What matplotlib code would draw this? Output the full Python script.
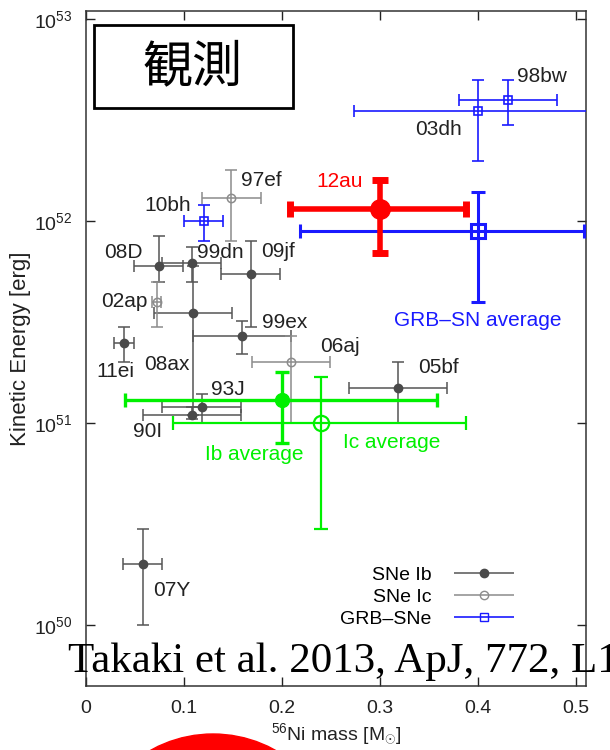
import numpy as np
import matplotlib
matplotlib.use('Agg')
import matplotlib.pyplot as plt
from matplotlib.patches import Rectangle, Ellipse
from matplotlib.container import ErrorbarContainer
from matplotlib.legend_handler import HandlerErrorbar
from matplotlib.ticker import NullLocator

plt.rcParams['font.family'] = ['Liberation Sans', 'Noto Sans CJK JP', 'DejaVu Sans']
plt.rcParams['mathtext.fontset'] = 'custom'
plt.rcParams['mathtext.rm'] = 'Liberation Sans'
plt.rcParams['mathtext.it'] = 'Liberation Sans:italic'
plt.rcParams['mathtext.bf'] = 'Liberation Sans:bold'

# SNe Ib (filled circles)
ib_names = ['08D', '99dn', '09jf', '08ax', '99ex', '11ei', '93J', '90I', '05bf', '07Y']
ib_ni = [0.074, 0.108, 0.168, 0.109, 0.159, 0.039, 0.118, 0.108, 0.318, 0.058]
ib_ni_err = [0.025, 0.03, 0.03, 0.04, 0.05, 0.01, 0.04, 0.05, 0.05, 0.02]
ib_ek = [6.0e51, 6.2e51, 5.5e51, 3.5e51, 2.7e51, 2.5e51, 1.2e51, 1.1e51, 1.5e51, 2.0e50]
ib_ek_lo = [5.0e51, 5.0e51, 3.0e51, 1.1e51, 2.2e51, 2.0e51, 1.0e51, 1.05e51, 1.0e51, 1.0e50]
ib_ek_hi = [8.5e51, 7.5e51, 8.0e51, 6.0e51, 3.2e51, 3.0e51, 1.4e51, 1.2e51, 2.0e51, 3.0e50]

# SNe Ic (open circles)
ic_names = ['97ef', '02ap', '06aj']
ic_ni = [0.148, 0.072, 0.209]
ic_ni_err = [0.03, 0.005, 0.04]
ic_ek = [1.3e52, 4.0e51, 2.0e51]
ic_ek_lo = [8.0e51, 3.0e51, 1.0e51]
ic_ek_hi = [1.8e52, 5.0e51, 2.7e51]

# GRB-SNe (open squares)
grb_names = ['10bh', '03dh', '98bw']
grb_ni = [0.12, 0.40, 0.43]
grb_ni_err = [0.02, 0.127, 0.05]
grb_ek = [1.0e52, 3.5e52, 4.0e52]
grb_ek_lo = [8.0e51, 2.0e52, 3.0e52]
grb_ek_hi = [1.2e52, 5.0e52, 5.0e52]

# averages and SN 2012au
avg_names = ['Ib average', 'Ic average', 'GRB\u2013SN average', '12au']
avg_ni = [0.20, 0.24, 0.40, 0.30]
avg_ni_lo = [0.04, 0.089, 0.218, 0.208]
avg_ni_hi = [0.358, 0.388, 0.508, 0.388]
avg_ek = [1.3e51, 1.0e51, 9.0e51, 1.15e52]
avg_ek_lo = [8.0e50, 3.0e50, 4.0e51, 7.0e51]
avg_ek_hi = [1.8e51, 1.7e51, 1.4e52, 1.6e52]

x_ticks = [0, 0.1, 0.2, 0.3, 0.4, 0.5]
x_ticklabels = ['0', '0.1', '0.2', '0.3', '0.4', '0.5']
y_ticks = [1e50, 1e51, 1e52, 1e53]

IB_C = '#4a4a4a'
IC_C = '#8c8c8c'
GRB_C = '#1a1aff'
GREEN = '#00f000'
RED = '#ff0000'
TXT = '#222222'

# label placement: (dx, dy in pixels, ha)
label_pos = {
    '08D': (-16, 14, 'right'), '99dn': (5, 11, 'left'), '09jf': (10, 22, 'left'),
    '08ax': (-3, -51, 'right'), '99ex': (20, 14, 'left'), '11ei': (-9, -29, 'center'),
    '93J': (9, 18, 'left'), '90I': (-30, -17, 'right'), '05bf': (20, 20, 'left'),
    '07Y': (10, -26, 'left'), '97ef': (10, 18, 'left'), '02ap': (-9, 0, 'right'),
    '06aj': (29, 16, 'left'), '10bh': (-13, 16, 'right'), '03dh': (-16, -18, 'right'),
    '98bw': (9, 23, 'left'), '12au': (-17, 28, 'right'),
    'GRB\u2013SN average': (0, -90, 'center'), 'Ib average': (-28, -54, 'center'),
    'Ic average': (70, -19, 'center'),
}


def yerr(val, lo, hi):
    val = np.asarray(val)
    return [val - np.asarray(lo), np.asarray(hi) - val]


fig = plt.figure(figsize=(6.1, 7.5), dpi=100)
ax = fig.add_axes([86 / 610, 1 - 686 / 750, 500 / 610, 675 / 750])
ax.set_yscale('log')

ax.errorbar(ib_ni, ib_ek, xerr=ib_ni_err, yerr=yerr(ib_ek, ib_ek_lo, ib_ek_hi),
            fmt='o', ms=6, color=IB_C, ecolor='#555555', elinewidth=1.1,
            capsize=4, capthick=1.1, zorder=3)
ax.errorbar(ic_ni, ic_ek, xerr=ic_ni_err, yerr=yerr(ic_ek, ic_ek_lo, ic_ek_hi),
            fmt='o', ms=6, mfc='none', mec=IC_C, mew=1.1, ecolor=IC_C, elinewidth=1.1,
            capsize=4, capthick=1.1, zorder=3)
ax.errorbar(grb_ni, grb_ek, xerr=grb_ni_err, yerr=yerr(grb_ek, grb_ek_lo, grb_ek_hi),
            fmt='s', ms=6, mfc='none', mec=GRB_C, mew=1.2, ecolor=GRB_C, elinewidth=1.2,
            capsize=4, capthick=1.2, zorder=3)

avg_style = [
    dict(fmt='o', ms=10, color=GREEN, elinewidth=2.4, capsize=5, capthick=2.4),
    dict(fmt='o', ms=11, mfc='none', mec=GREEN, mew=1.6, ecolor=GREEN,
         elinewidth=1.6, capsize=5, capthick=1.6),
    dict(fmt='s', ms=10, mfc='none', mec=GRB_C, mew=2.2, ecolor=GRB_C,
         elinewidth=2.2, capsize=5, capthick=2.2),
    dict(fmt='o', ms=14, color=RED, elinewidth=4, capsize=6, capthick=5),
]
for i, st in enumerate(avg_style):
    ax.errorbar([avg_ni[i]], [avg_ek[i]],
                xerr=[[avg_ni[i] - avg_ni_lo[i]], [avg_ni_hi[i] - avg_ni[i]]],
                yerr=[[avg_ek[i] - avg_ek_lo[i]], [avg_ek_hi[i] - avg_ek[i]]],
                zorder=4 + i, **st)

# labels
for names, xs, ys in [(ib_names, ib_ni, ib_ek), (ic_names, ic_ni, ic_ek),
                      (grb_names, grb_ni, grb_ek)]:
    for n, x, y in zip(names, xs, ys):
        dx, dy, ha = label_pos[n]
        ax.annotate(n, (x, y), xytext=(dx, dy), textcoords='offset pixels',
                    ha=ha, va='center', fontsize=15, color=TXT, zorder=10)
avg_colors = [GREEN, GREEN, GRB_C, RED]
for n, x, y, col in zip(avg_names, avg_ni, avg_ek, avg_colors):
    dx, dy, ha = label_pos[n]
    ax.annotate(n, (x, y), xytext=(dx, dy), textcoords='offset pixels',
                ha=ha, va='center', fontsize=15, color=col, zorder=10)

ax.set_xlim(0, 0.51)
ax.set_ylim(5e49, 1.1e53)
ax.set_xticks(x_ticks)
ax.set_xticklabels(x_ticklabels)
ax.set_yticks(y_ticks)
ax.yaxis.set_minor_locator(NullLocator())
ax.tick_params(direction='in', length=6.5, width=1.0, top=True, right=True,
               labelsize=14, pad=10, colors='#222222')
for s in ax.spines.values():
    s.set_linewidth(1.1)
    s.set_color('#333333')

ax.set_xlabel(r'$^{56}$Ni mass [M$_{\odot}$]', fontsize=14, labelpad=3, color=TXT)
ax.set_ylabel('Kinetic Energy [erg]', fontsize=16, labelpad=2, color=TXT)

# legend
p_ib = ax.errorbar([], [], xerr=[], fmt='o', ms=6, color=IB_C, ecolor='#555555',
                   elinewidth=1.1, capsize=4, capthick=1.1, label='SNe Ib')
p_ic = ax.errorbar([], [], xerr=[], fmt='o', ms=6, mfc='none', mec=IC_C, ecolor=IC_C,
                   elinewidth=1.1, capsize=4, capthick=1.1, label='SNe Ic')
p_grb = ax.errorbar([], [], xerr=[], fmt='s', ms=6, mfc='none', mec=GRB_C, ecolor=GRB_C,
                    elinewidth=1.2, capsize=4, capthick=1.2, label='GRB\u2013SNe')
ax.legend(handles=[p_ib, p_ic, p_grb], loc='lower right', frameon=False,
          markerfirst=False, fontsize=14, handlelength=3.2, handletextpad=1.1,
          labelspacing=0.22, borderpad=0, borderaxespad=0,
          bbox_to_anchor=((515 - 86) / 500, (686 - 628) / 675),
          handler_map={ErrorbarContainer: HandlerErrorbar(xerr_size=1.55)})

# title box
ax.add_patch(Rectangle((0.0166, 0.856), 0.397, 0.123, transform=ax.transAxes,
                       facecolor='white', edgecolor='black', lw=2, zorder=11))
ax.text(0.214, 0.917, '観測', transform=ax.transAxes, fontsize=36,
        family=['Noto Sans CJK JP'], ha='center', va='center', zorder=12)

# citation and decoration
fig.text(68 / 610, 1 - 672 / 750, 'Takaki et al. 2013, ApJ, 772, L1',
         family='Liberation Serif', fontsize=31, ha='left', va='baseline', zorder=20)
fig.add_artist(Ellipse((213 / 610, 1 - 862 / 750), 256 / 610, 256 / 750,
                       transform=fig.transFigure, color='red', zorder=20))

fig.savefig('out.png', dpi=100)
